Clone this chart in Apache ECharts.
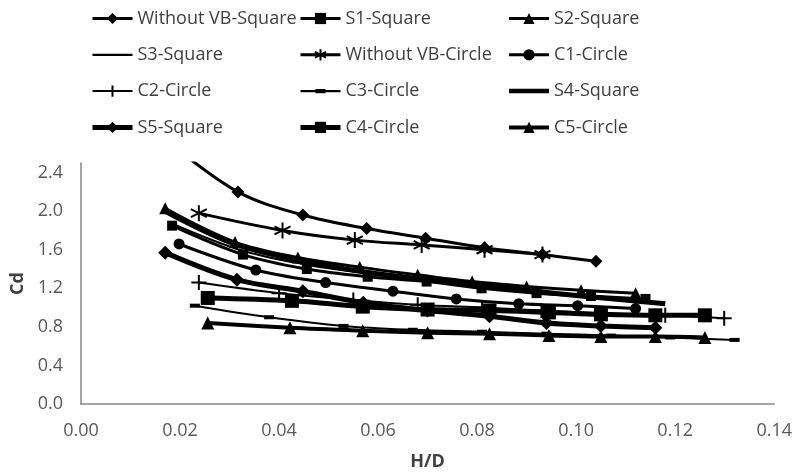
<!DOCTYPE html>
<html>
<head>
<meta charset="utf-8">
<script src="https://cdn.jsdelivr.net/npm/echarts@6/dist/echarts.min.js"></script>
<style>
html,body{margin:0;padding:0;background:#fff;}
#chart{width:795px;height:476px;}
</style>
</head>
<body>
<div id="chart"></div>
<script>
// Series names (legend order, row by row)
const seriesNames = [
  'Without VB-Square','S1-Square','S2-Square',
  'S3-Square','Without VB-Circle','C1-Circle',
  'C2-Circle','C3-Circle','S4-Square',
  'S5-Square','C4-Circle','C5-Circle'
];

// Data: [H/D, Cd]
const withoutVBSquare = [[0.0176,2.72],[0.0317,2.20],[0.0448,1.96],[0.0577,1.82],[0.0696,1.72],[0.0815,1.62],[0.0932,1.55],[0.104,1.48]];
const s1Square = [[0.0184,1.85],[0.0327,1.55],[0.0456,1.40],[0.0579,1.32],[0.0698,1.27],[0.0809,1.20],[0.092,1.15],[0.103,1.12],[0.114,1.09]];
const s2Square = [[0.017,2.03],[0.0311,1.68],[0.0438,1.52],[0.0563,1.42],[0.068,1.34],[0.079,1.27],[0.090,1.22],[0.101,1.18],[0.112,1.15]];
const s3Square = [[0.018,1.88],[0.032,1.60],[0.045,1.45],[0.057,1.36],[0.069,1.29],[0.080,1.23],[0.091,1.17],[0.102,1.12],[0.115,1.07]];
const withoutVBCircle = [[0.0238,1.98],[0.0407,1.80],[0.0553,1.70],[0.0688,1.65],[0.0815,1.60],[0.0932,1.55]];
const c1Circle = [[0.0198,1.66],[0.0353,1.39],[0.0494,1.26],[0.063,1.17],[0.0758,1.09],[0.0884,1.04],[0.1003,1.02],[0.112,0.99]];
const c2Circle = [[0.0238,1.26],[0.040,1.15],[0.055,1.08],[0.068,1.03],[0.081,1.00],[0.093,0.97],[0.106,0.94],[0.118,0.92],[0.1299,0.89]];
const c3Circle = [[0.023,1.02],[0.038,0.90],[0.053,0.81],[0.067,0.77],[0.081,0.75],[0.094,0.73],[0.107,0.71],[0.119,0.69],[0.132,0.665]];
const s4Square = [[0.017,2.00],[0.031,1.66],[0.044,1.49],[0.056,1.38],[0.068,1.30],[0.079,1.24],[0.090,1.18],[0.101,1.12],[0.118,1.04]];
const s5Square = [[0.017,1.57],[0.0315,1.29],[0.0448,1.17],[0.057,1.05],[0.070,0.97],[0.0825,0.91],[0.094,0.84],[0.105,0.81],[0.116,0.79]];
const c4Circle = [[0.0256,1.10],[0.0426,1.07],[0.0569,1.01],[0.070,0.98],[0.0825,0.97],[0.0945,0.95],[0.105,0.93],[0.116,0.92],[0.126,0.92]];
const c5Circle = [[0.0256,0.84],[0.0422,0.79],[0.0569,0.76],[0.070,0.74],[0.0825,0.73],[0.0945,0.71],[0.105,0.70],[0.116,0.70],[0.126,0.69]];

const seriesData = [withoutVBSquare,s1Square,s2Square,s3Square,withoutVBCircle,c1Circle,c2Circle,c3Circle,s4Square,s5Square,c4Circle,c5Circle];

// Axis ticks
const xTicks = {min:0, max:0.14, step:0.02};
const yTicks = {min:0, max:2.5, step:0.4};

const STAR = 'path://M0,-10L0,10M-8.7,-5L8.7,5M-8.7,5L8.7,-5';
const PLUS = 'path://M0,-10L0,10M-10,0L10,0';
const LINE_THIN = 'path://M0,0L40,0L40,2.2L0,2.2Z';
const LINE_THICK = 'path://M0,0L40,0L40,4.5L0,4.5Z';
const LINE_DASH = 'path://M0,1L40,1L40,3.2L0,3.2Z M15,0L25,0L25,4.2L15,4.2Z';

// style per series (same order as seriesNames)
const styles = [
  {symbol:'diamond', size:13, width:3},
  {symbol:'rect', size:10, width:3},
  {symbol:'triangle', size:12, width:3},
  {symbol:'none', size:0, width:2, icon:LINE_THIN},
  {symbol:STAR, size:16, width:3, stroke:2},
  {symbol:'circle', size:11, width:3},
  {symbol:PLUS, size:15, width:2, stroke:2},
  {symbol:'rect', size:[10,4], width:2, icon:LINE_DASH},
  {symbol:'none', size:0, width:5, icon:LINE_THICK},
  {symbol:'diamond', size:14, width:5},
  {symbol:'rect', size:14, width:5},
  {symbol:'triangle', size:13, width:4}
];

const series = seriesNames.map((name,i)=>{
  const st = styles[i];
  return {
    name: name,
    type: 'line',
    data: seriesData[i],
    smooth: 0.35,
    symbol: st.symbol,
    symbolSize: st.size,
    showSymbol: st.symbol !== 'none',
    clip: true,
    lineStyle: {color:'#000', width: st.width},
    itemStyle: {color:'#000', borderColor:'#000', borderWidth: st.stroke || 0},
    emphasis: {disabled:true},
    animation: false
  };
});

const legendColIdx = [[0,3,6,9],[1,4,7,10],[2,5,8,11]];
const legendLefts = [90, 298, 507];

const FONT = '"Open Sans", sans-serif';

const option = {
  backgroundColor:'#fff',
  animation:false,
  legend: legendColIdx.map((col,i)=>({
    orient:'vertical',
    left: legendLefts[i],
    top: 9.5,
    padding: 0,
    data: col.map(k => styles[k].icon ? {name:seriesNames[k], icon:styles[k].icon} : {name:seriesNames[k]}),
    itemWidth: 40,
    itemHeight: 14,
    itemGap: 18.3,
    selectedMode:false,
    lineStyle:{width:'inherit'},
    textStyle:{fontFamily:FONT, fontSize:18, color:'#404040', lineHeight:18}
  })),
  grid:{left:81, right:20, top:163, bottom:67, containLabel:false},
  xAxis:{
    type:'value', min:xTicks.min, max:xTicks.max, interval:xTicks.step,
    name:'H/D', nameLocation:'middle', nameGap:49,
    nameTextStyle:{fontFamily:FONT, fontSize:18, fontWeight:'bold', color:'#404040'},
    axisLine:{show:true, lineStyle:{color:'#868686', width:1.5}},
    axisTick:{show:false},
    splitLine:{show:false},
    axisLabel:{fontFamily:FONT, fontSize:18, color:'#595959', margin:18, formatter:v=>v.toFixed(2)}
  },
  yAxis:{
    type:'value', min:yTicks.min, max:yTicks.max, interval:yTicks.step,
    name:'Cd', nameLocation:'middle', nameGap:52, nameRotate:90,
    nameTextStyle:{fontFamily:FONT, fontSize:18, fontWeight:'bold', color:'#404040'},
    axisLine:{show:true, lineStyle:{color:'#868686', width:1.5}},
    axisTick:{show:false},
    splitLine:{show:false},
    axisLabel:{fontFamily:FONT, fontSize:18, color:'#595959', margin:18, showMaxLabel:false,
      formatter:v=>v.toFixed(1)}
  },
  series: series
};

const chart = echarts.init(document.getElementById('chart'), null, {renderer:'canvas'});
chart.setOption(option);
</script>
</body>
</html>
